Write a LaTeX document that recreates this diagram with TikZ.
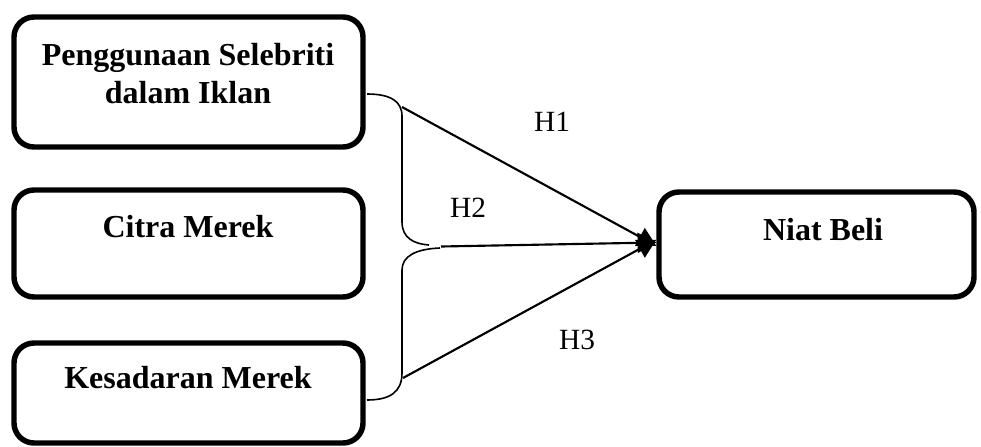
\documentclass[tikz,border=0pt]{standalone}
\usepackage{fontspec}
\setmainfont{Liberation Serif}
\usetikzlibrary{arrows.meta}

\tikzset{every picture/.style={line width=0.75pt}}
\tikzset{
  varbox/.style={draw, line width=4.1pt, rounded corners=15pt, inner sep=0pt},
  vartext/.style={inner sep=0.75pt, align=center, font=\fontsize{24}{28.5}\selectfont\bfseries},
  hyptext/.style={inner sep=0.75pt, font=\fontsize{22}{26}\selectfont},
  hyparrow/.style={line width=1.6pt, -{Triangle[length=14pt,width=15pt]}},
}

\begin{document}
\begin{tikzpicture}[x=0.75pt,y=0.75pt,yscale=-1,xscale=1]
\useasboundingbox (0,0) rectangle (981,446);

%Rounded Rect [id:pgs]
\node [varbox, minimum width=261.75pt, minimum height=97.5pt] (pgs) at (188.5,82) {};
%Rounded Rect [id:cm]
\node [varbox, minimum width=261.75pt, minimum height=80.25pt] (cm) at (188.5,243.5) {};
%Rounded Rect [id:km]
\node [varbox, minimum width=261.75pt, minimum height=75pt] (km) at (188.5,393) {};
%Rounded Rect [id:nb]
\node [varbox, minimum width=236.25pt, minimum height=78.75pt] (nb) at (816.5,244.5) {};

%Shape: Brace [id:brace]
\draw [line width=1.2pt] (367,94) .. controls (390,94) and (402,101) .. (402,116) -- (402,222) .. controls (402,238) and (414,244) .. (429,245) ;
\draw [line width=1.2pt] (367,400) .. controls (390,400) and (402,392) .. (402,373) -- (402,270) .. controls (402,256) and (416,249) .. (440,248) ;
\coordinate (bt) at (402,107) ;
\coordinate (bm) at (441,246.5) ;
\coordinate (bb) at (403,378) ;

%Straight Lines [id:h1]
\draw [hyparrow] (bt) -- ([yshift=1pt]nb.west) ;
%Straight Lines [id:h2]
\draw [hyparrow] (bm) -- ([yshift=-1.5pt]nb.west) ;
%Straight Lines [id:h3]
\draw [hyparrow] (bb) -- ([yshift=-3.5pt]nb.west) ;

% Text Node
\node [vartext] (tpgs) at (188,74) {Penggunaan Selebriti\\dalam Iklan};
% Text Node
\node [vartext] (tcm) at (188,227) {Citra Merek};
% Text Node
\node [vartext] (tkm) at (188,378) {Kesadaran Merek};
% Text Node
\node [vartext] (tnb) at (823,230) {Niat Beli};
% Text Node
\node [hyptext] (th1) at (552,122) {H1};
% Text Node
\node [hyptext] (th2) at (468,208) {H2};
% Text Node
\node [hyptext] (th3) at (577,340) {H3};

\end{tikzpicture}
\end{document}
